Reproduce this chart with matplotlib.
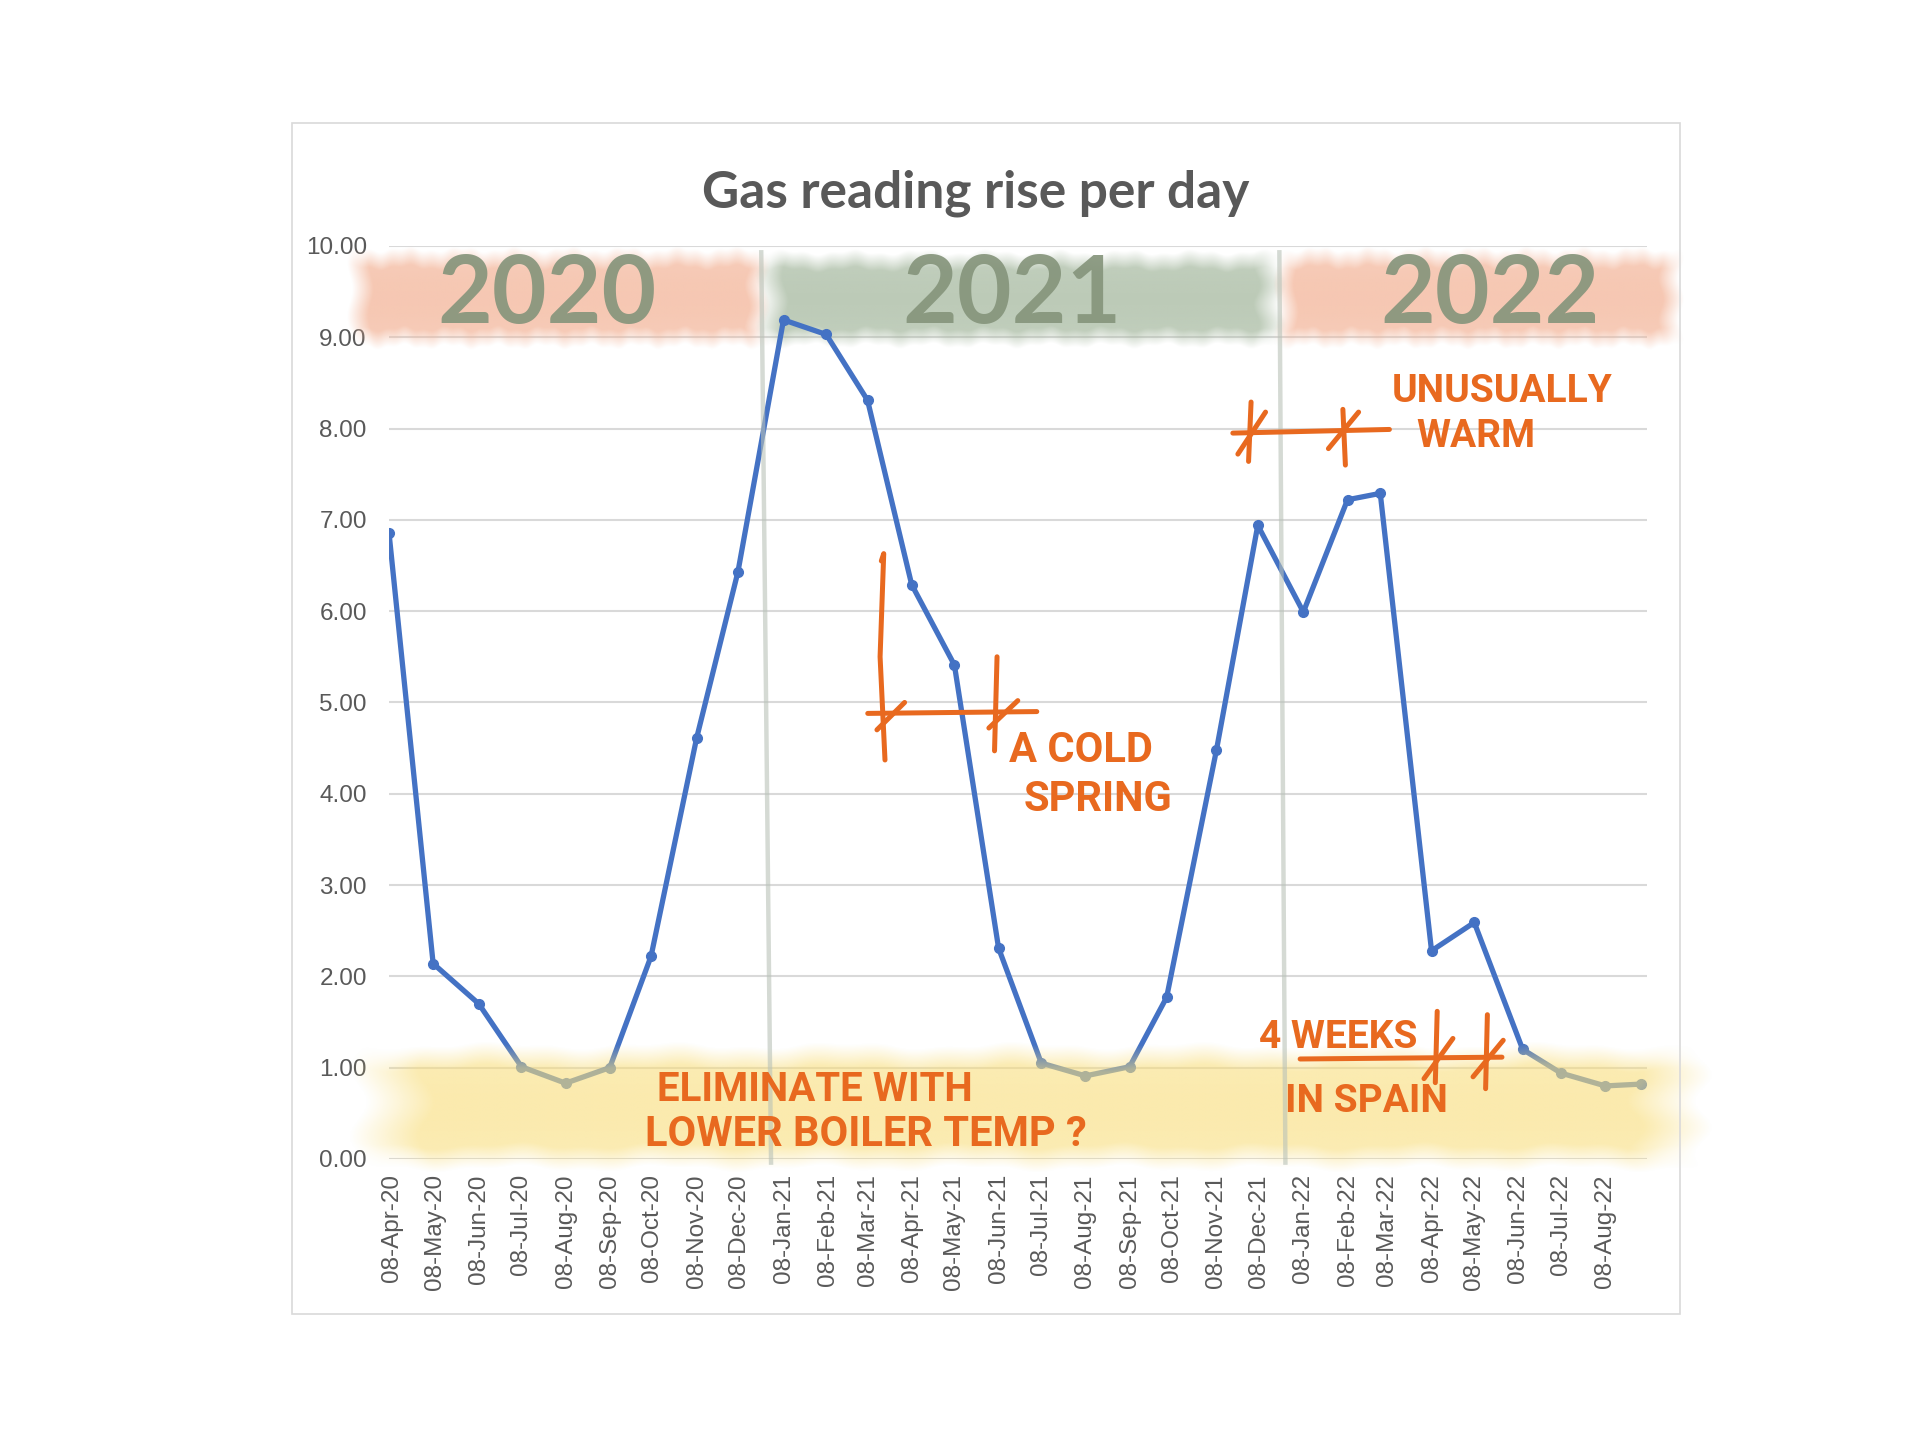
import matplotlib
matplotlib.use('Agg')
import matplotlib.pyplot as plt
import matplotlib.dates as mdates
from matplotlib.patches import Rectangle
import numpy as np
import pandas as pd

# --- data ---
reading_dates = ['2020-04-06', '2020-05-07', '2020-06-08', '2020-07-08', '2020-08-08',
                 '2020-09-08', '2020-10-07', '2020-11-08', '2020-12-07', '2021-01-08',
                 '2021-02-07', '2021-03-08', '2021-04-08', '2021-05-08', '2021-06-08',
                 '2021-07-08', '2021-08-08', '2021-09-08', '2021-10-04', '2021-11-08',
                 '2021-12-07', '2022-01-08', '2022-02-08', '2022-03-03', '2022-04-08',
                 '2022-05-08', '2022-06-11', '2022-07-08', '2022-08-08', '2022-09-02']
rise_per_day = [6.86, 2.14, 1.70, 1.01, 0.83, 1.00, 2.22, 4.61, 6.43, 9.19,
                9.03, 8.31, 6.29, 5.41, 2.31, 1.05, 0.91, 1.01, 1.77, 4.48,
                6.94, 5.99, 7.22, 7.29, 2.28, 2.59, 1.20, 0.94, 0.80, 0.82]
year_labels = ['2020', '2021', '2022']

GREY_TXT = '#595959'
GRID = '#D9D9D9'
BLUE = '#4472C4'
ORANGE = '#E8691F'
HAND = ['Roboto', 'DejaVu Sans']

x = pd.to_datetime(reading_dates)


def soft_band(ax, x0, x1, y0, y1, color, alpha, zorder, phase=0.0):
    """watercolour-ish band in axes coords, soft ragged edges"""
    nx, ny = 600, 120
    U, V = np.meshgrid(np.linspace(0, 1, nx), np.linspace(0, 1, ny))
    ebot = 0.07 + 0.018 * np.sin(57 * U + phase) + 0.010 * np.sin(143 * U + 2 * phase)
    etop = 0.93 + 0.018 * np.sin(49 * U + 3 * phase) + 0.010 * np.sin(131 * U + phase)
    eleft = 0.008 + 0.006 * np.sin(13 * V + phase)
    eright = 0.992 + 0.006 * np.sin(17 * V + 2 * phase)
    ay = np.clip(np.minimum(V - ebot, etop - V) / 0.16, 0, 1)
    ax_ = np.clip(np.minimum(U - eleft, eright - U) / 0.05, 0, 1)
    # a little tonal variation, darker toward the middle rows
    tone = 0.85 + 0.15 * np.sin(np.pi * np.clip(V, 0, 1))
    rgba = np.zeros((ny, nx, 4))
    rgba[..., :3] = matplotlib.colors.to_rgb(color)
    rgba[..., 3] = alpha * ay * ax_ * tone
    ax.imshow(rgba, extent=(x0, x1, y0, y1), transform=ax.transAxes, origin='lower',
              aspect='auto', interpolation='bilinear', zorder=zorder, clip_on=False)


def stroke(ax, xs, ys, lw=3.6):
    ax.plot(xs, ys, transform=ax.transAxes, color=ORANGE, lw=lw,
            solid_capstyle='round', solid_joinstyle='round', clip_on=False, zorder=7)


def hand_text(ax, xa, ya, s, size=29):
    ax.text(xa, ya, s, transform=ax.transAxes, ha='left', va='center',
            fontsize=size, fontweight='bold', color=ORANGE, family=HAND, zorder=7)


fig = plt.figure(figsize=(19.2, 14.39), dpi=100)
fig.patch.set_facecolor('white')

# chart frame
fig.add_artist(Rectangle((0.152, 0.0869), 0.723, 0.8276, transform=fig.transFigure,
                         fill=False, edgecolor=GRID, lw=1.2))

ax = fig.add_axes([0.2026, 0.1946, 0.6550, 0.6345])

ax.plot(x, rise_per_day, color=BLUE, lw=3.8, marker='o', markersize=7,
        markerfacecolor=BLUE, markeredgecolor=BLUE, zorder=2)

ax.set_ylim(0, 10)
ax.set_xlim(x[0], x[-1] + pd.Timedelta(days=4))
ax.set_yticks(np.arange(0, 11, 1))
ax.yaxis.set_major_formatter(matplotlib.ticker.FormatStrFormatter('%.2f'))
ax.xaxis.set_major_locator(mdates.MonthLocator(bymonthday=8))
ax.xaxis.set_major_formatter(mdates.DateFormatter('%d-%b-%y'))
ax.grid(axis='y', color=GRID, lw=1.5)
ax.set_axisbelow(True)
for s in ax.spines.values():
    s.set_visible(False)
ax.tick_params(axis='both', length=0, colors=GREY_TXT, labelsize=17.5)
ax.tick_params(axis='y', pad=16)
ax.tick_params(axis='x', pad=11, labelrotation=90)
for lab in ax.get_xticklabels() + ax.get_yticklabels():
    lab.set_fontfamily('Liberation Sans')

fig.text(0.5083, 0.8659, 'Gas reading rise per day', ha='center', va='center',
         fontsize=37, fontweight='bold', color=GREY_TXT, family=['Lato', 'DejaVu Sans'])

# year bands at the top
soft_band(ax, -0.034, 0.304, 0.880, 1.004, '#F3B295', 0.72, 1, phase=0.3)
soft_band(ax, 0.290, 0.714, 0.882, 1.002, '#9DB296', 0.68, 1, phase=1.7)
soft_band(ax, 0.702, 1.030, 0.880, 1.004, '#F3B295', 0.72, 1, phase=2.9)
for lab, xc in zip(year_labels, [0.1256, 0.4956, 0.8754]):
    ax.text(xc, 0.945, lab, transform=ax.transAxes, ha='center', va='center',
            fontsize=68, fontweight='bold', color='#86957C', alpha=0.92,
            family=['Lato', 'DejaVu Sans'], zorder=4)

# yellow band along the bottom
soft_band(ax, -0.034, 1.055, -0.022, 0.135, '#F9DE7C', 0.62, 3, phase=0.9)

# year dividers
ax.plot([0.296, 0.3038], [0.993, -0.004], transform=ax.transAxes, color='#B9C2B8',
        lw=3.2, alpha=0.6, clip_on=False, zorder=3)
ax.plot([0.708, 0.7128], [0.993, -0.004], transform=ax.transAxes, color='#B9C2B8',
        lw=3.2, alpha=0.6, clip_on=False, zorder=3)

# --- hand annotations ---
# a cold spring
stroke(ax, [0.3915, 0.3934, 0.3905, 0.3944], [0.655, 0.663, 0.55, 0.437])
stroke(ax, [0.3807, 0.5151], [0.488, 0.490])
stroke(ax, [0.388, 0.410], [0.470, 0.500])
stroke(ax, [0.4835, 0.4815], [0.550, 0.447])
stroke(ax, [0.477, 0.500], [0.472, 0.502])
hand_text(ax, 0.4927, 0.447, 'A COLD', 30)
hand_text(ax, 0.505, 0.3935, 'SPRING', 30)

# unusually warm
stroke(ax, [0.671, 0.7955], [0.795, 0.799])
stroke(ax, [0.6855, 0.6835], [0.829, 0.764])
stroke(ax, [0.675, 0.697], [0.772, 0.818])
stroke(ax, [0.7585, 0.7605], [0.821, 0.760])
stroke(ax, [0.747, 0.771], [0.778, 0.818])
hand_text(ax, 0.7975, 0.841, 'UNUSUALLY', 28)
hand_text(ax, 0.817, 0.791, 'WARM', 28)

# 4 weeks in spain
hand_text(ax, 0.692, 0.1334, '4 WEEKS', 28)
stroke(ax, [0.7245, 0.885], [0.1095, 0.1115])
stroke(ax, [0.8335, 0.8320], [0.1617, 0.0836])
stroke(ax, [0.823, 0.846], [0.088, 0.132])
stroke(ax, [0.8734, 0.8720], [0.158, 0.077])
stroke(ax, [0.862, 0.886], [0.090, 0.130])
hand_text(ax, 0.7128, 0.0633, 'IN SPAIN', 28)

# eliminate with lower boiler temp?
hand_text(ax, 0.2132, 0.0755, 'ELIMINATE WITH', 29)
hand_text(ax, 0.2035, 0.027, 'LOWER BOILER TEMP ?', 30)

fig.savefig('out.png', dpi=100, facecolor='white')
